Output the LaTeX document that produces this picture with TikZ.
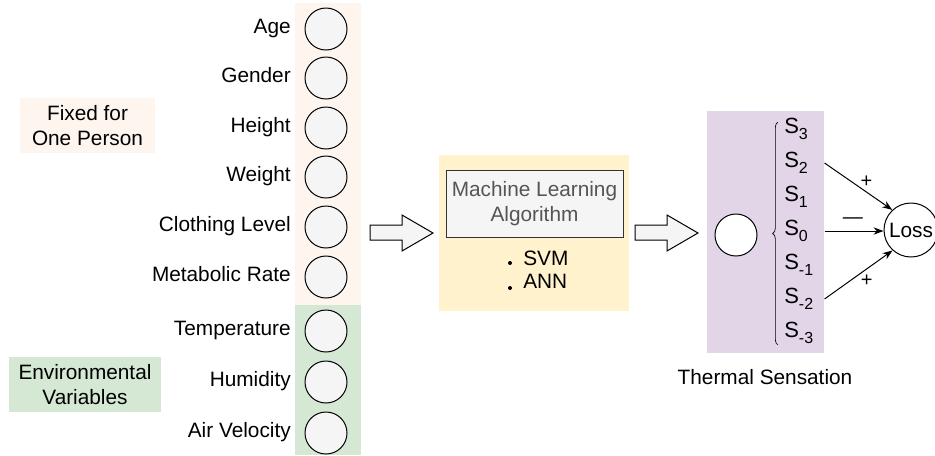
\documentclass[tikz,border=0pt]{standalone}
\usepackage{fontspec}
\setmainfont{Liberation Sans}
\usetikzlibrary{arrows.meta,decorations.pathreplacing}
\definecolor{peach}{HTML}{FEF5EF}
\definecolor{envgreen}{HTML}{D5E8D4}
\definecolor{mlyellow}{HTML}{FFF2CC}
\definecolor{thpurple}{HTML}{E1D5E7}
\definecolor{lightgray}{HTML}{F5F5F5}
\definecolor{mltext}{HTML}{555555}
\definecolor{mlstroke}{HTML}{333333}
\newcommand{\ssub}[1]{S\raisebox{-0.28em}{\fontsize{12}{12}\selectfont #1}}
\begin{document}
\begin{tikzpicture}[x=0.75pt,y=-0.75pt,
  font=\fontsize{15.6}{19}\selectfont,
  inp/.style={circle,draw=black,fill=lightgray,minimum size=31.5pt,inner sep=0pt,line width=0.75pt},
  lbl/.style={anchor=east,inner sep=0pt,text height=0.716em,text depth=0pt},
  sval/.style={anchor=west,inner sep=0pt,text width=30pt,align=left,text height=0.716em,text depth=0pt,font=\fontsize{16.5}{19}\selectfont},
  groupbox/.style={inner sep=0pt,align=center},
  blockarrow/.style={draw=black,fill=lightgray,line width=0.75pt,line join=miter},
  conn/.style={draw=black,line width=0.75pt,-{Stealth[length=7.5pt,width=5.5pt]}},
  sign/.style={inner sep=1pt,font=\fontsize{15}{17}\selectfont}
]
\useasboundingbox (0,0) rectangle (935,455);

% background columns
\fill[peach] (295,3) rectangle (361,305);
\fill[envgreen] (295,305) rectangle (361,455);

% input circles and labels
\foreach \nm/\yy/\txt in {age/29/Age, gen/78/Gender, hei/128/Height, wei/177/Weight,
  clo/227/Clothing Level, met/277/Metabolic Rate, tem/331/Temperature,
  hum/382/Humidity, air/433/Air Velocity}{
  \node[inp] (\nm) at (326,\yy) {};
  \node[lbl] (\nm-l) at (291,\yy) {\txt};
}

% group labels
\node[groupbox,fill=peach,minimum width=101.25pt,minimum height=41.25pt] (fixed) at (87.5,125.5) {Fixed for\\One Person};
\node[groupbox,fill=envgreen,minimum width=114pt,minimum height=41.25pt] (env) at (85,384.5) {Environmental\\Variables};

% ML block
\fill[mlyellow] (439,155) rectangle (629,311);
\node[groupbox,draw=mlstroke,fill=lightgray,text=mltext,line width=0.75pt,minimum width=132.75pt,minimum height=50.25pt] (ml) at (534.5,203.5) {Machine Learning\\Algorithm};
\fill (510,263) circle (1.5pt);
\fill (510,288) circle (1.5pt);
\node[anchor=west,inner sep=0pt,text height=0.716em,text depth=0pt] (svm) at (523,260.5) {SVM};
\node[anchor=west,inner sep=0pt,text height=0.716em,text depth=0pt] (ann) at (523,284) {ANN};

% block arrows
\draw[blockarrow] (370,225) -- (402,225) -- (402,215) -- (433,233) -- (402,251) -- (402,240) -- (370,240) -- cycle;
\draw[blockarrow] (635,225) -- (667,225) -- (667,215) -- (698,233) -- (667,251) -- (667,240) -- (635,240) -- cycle;

% thermal sensation
\fill[thpurple] (707,111) rectangle (824,353);
\node[circle,draw=black,fill=white,minimum size=31.5pt,inner sep=0pt,line width=0.75pt] (ts) at (736,235) {};
\draw[line width=0.5pt,decorate,decoration={brace,amplitude=4pt}] (778,345) -- (778,122);
\node[sval] (s3) at (784,129) {\ssub{3}};
\node[sval] (s2) at (784,163) {\ssub{2}};
\node[sval] (s1) at (784,197) {\ssub{1}};
\node[sval] (s0) at (784,231) {\ssub{0}};
\node[sval] (sm1) at (784,265) {\ssub{-1}};
\node[sval] (sm2) at (784,299) {\ssub{-2}};
\node[sval] (sm3) at (784,333) {\ssub{-3}};
\node[inner sep=0pt] (tlabel) at (765,377) {Thermal Sensation};

% loss
\node[circle,draw=black,fill=white,minimum size=40.5pt,inner sep=0pt,line width=0.75pt] (loss) at (911,230) {Loss};
\draw[conn] (s2.east) -- node[sign,pos=0.62,above=2pt] {+} (loss.133);
\draw[conn] (s0.east) -- node[sign,pos=0.48,above=4pt] {—} (s0.east -| loss.west);
\draw[conn] (sm2.east) -- node[sign,pos=0.62,below=3pt] {+} (loss.228);
\end{tikzpicture}
\end{document}
